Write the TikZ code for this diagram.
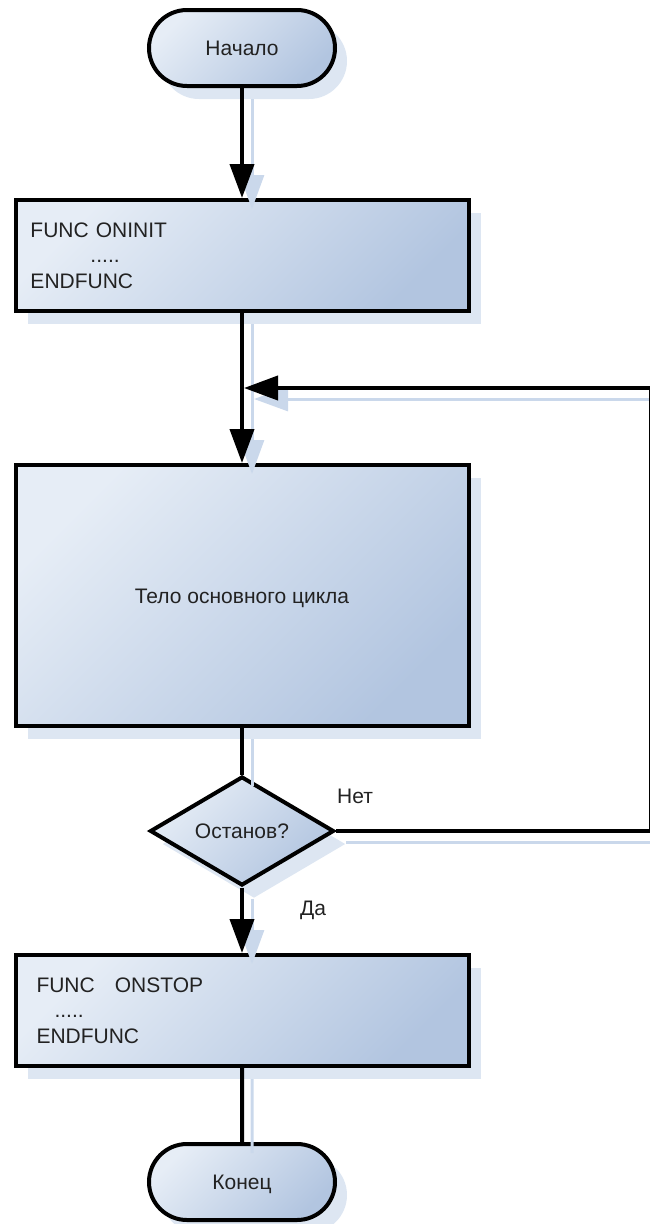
\documentclass[tikz,border=0pt]{standalone}
\usepackage{fontspec}
\setmainfont{Liberation Sans}
\usetikzlibrary{arrows.meta,shapes.geometric,shapes.misc,shadows}
\definecolor{gradA}{HTML}{E6EDF6}
\definecolor{gradB}{HTML}{B2C5E0}
\definecolor{boxshadow}{HTML}{DDE6F2}
\definecolor{lineshadow}{HTML}{CAD8EB}
\definecolor{txt}{HTML}{222222}
\tikzset{
  fcshape/.style={draw=black, line width=4pt, top color=gradA, bottom color=gradB,
    shading angle=45, text=txt, font=\fontsize{21}{25.5}\selectfont,
    drop shadow={shadow xshift=12pt, shadow yshift=-13pt, fill=boxshadow, opacity=1}},
  terminal/.style={fcshape, rounded rectangle, minimum width=186pt, minimum height=76pt,
    inner sep=0pt, text height=15pt, text depth=0pt},
  process/.style={fcshape, rectangle, minimum width=453pt, inner ysep=0pt},
  decision/.style={fcshape, diamond, minimum width=184pt, minimum height=108pt,
    inner sep=0pt, text height=15pt, text depth=0pt},
  flow/.style={draw=black, line width=4pt,
    preaction={draw=lineshadow, line width=3pt, transform canvas={shift={(10pt,-11pt)}}}},
  arrowed/.style={-{Triangle[length=34pt,width=24pt]}},
  lbl/.style={text=txt, font=\fontsize{21}{25.5}\selectfont, anchor=base, inner sep=0pt}
}
\begin{document}
\begin{tikzpicture}[x=1pt,y=-1pt]
\useasboundingbox (0,0) rectangle (649,1224);
\node[terminal] (start) at (242,48) {Начало};
\node[process, minimum height=111pt, inner xsep=15pt, text width=423pt, align=left] (init) at (242,255.5)
  {FUNC ONINIT\\\hspace*{60pt}.....\\ENDFUNC};
\node[process, minimum height=261pt, inner xsep=15pt, text height=15pt, text depth=0pt] (body) at (242,595.5)
  {Тело основного цикла};
\node[decision] (dec) at (242,831) {Останов?};
\node[process, minimum height=111pt, inner xsep=21pt, text width=411pt, align=left] (stop) at (242,1010.5)
  {FUNC\hspace*{20pt}ONSTOP\\\hspace*{18pt}.....\\ENDFUNC};
\node[terminal] (end) at (242,1182) {Конец};
\node[lbl] (no) at (355,803) {Нет};
\node[lbl] (yes) at (313,915) {Да};
\coordinate (loopR) at (651,388);
\coordinate (merge) at (244,388);
\draw[flow, arrowed] (start) -- (init);
\draw[flow, arrowed] (init) -- (body);
\draw[flow] (body) -- (dec);
\draw[flow, arrowed] (dec.east) -| (loopR) -- (merge);
\draw[flow, arrowed] (dec) -- (stop);
\draw[flow] (stop) -- (end);
\end{tikzpicture}
\end{document}
